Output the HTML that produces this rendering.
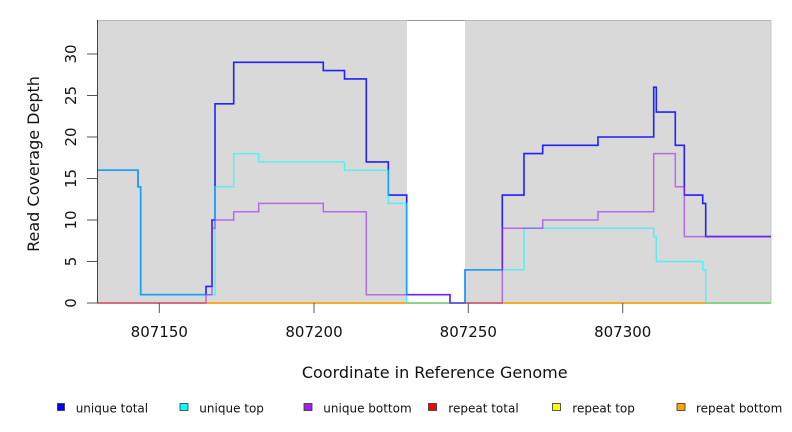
<!DOCTYPE html>
<html>
<head>
<meta charset="utf-8">
<style>
  html, body { margin:0; padding:0; background:#fff; }
  svg { display:block; }
  text { font-family: "DejaVu Sans", "Liberation Sans", sans-serif; fill:#111; }
</style>
</head>
<body>
<svg width="792" height="432" viewBox="0 0 792 432" xmlns="http://www.w3.org/2000/svg">
  <!-- plot background -->
  <rect x="97" y="20" width="310" height="283" fill="#d9d9d9"/>
  <rect x="465" y="20" width="306" height="283" fill="#d9d9d9"/>
  <line x1="97" y1="20.5" x2="771" y2="20.5" stroke="#b8b8b8" stroke-width="1"/>
  <line x1="407" y1="20.5" x2="465" y2="20.5" stroke="#999" stroke-width="1"/>
  <line x1="771" y1="20" x2="771" y2="303" stroke="#c4c4c4" stroke-width="1"/>

  <!-- repeat lines at zero -->
  <line x1="97" y1="303.5" x2="771" y2="303.5" stroke="#ffd0d0" stroke-width="1"/>
  <line x1="97" y1="303" x2="771" y2="303" stroke="#ff0000" stroke-width="1.5" stroke-opacity="0.6"/>
  <line x1="97" y1="303" x2="771" y2="303" stroke="#ffff00" stroke-width="1.5" stroke-opacity="0.6"/>
  <line x1="97" y1="303" x2="771" y2="303" stroke="#ffa500" stroke-width="1.5" stroke-opacity="0.8"/>

  <!-- unique total -->
  <path fill="none" stroke="#0000ff" stroke-width="1.6" stroke-opacity="0.85" stroke-linejoin="miter"
    d="M97,170.2 H138 V186.8 H140.7 V294.7 H206 V286.4 H212 V220 H215 V103.8 H233.7 V62.3 H323.3 V70.6 H344.5 V78.9 H366.3 V161.9 H388.3 V195.1 H406.7 V294.7 H450 V303 H465 V269.8 H502.3 V195.1 H524 V153.6 H542.7 V145.3 H598 V137 H653.7 V87.2 H656.3 V112.1 H675.3 V145.3 H684.3 V195.1 H702.7 V203.4 H705.7 V236.6 H771"/>
  <!-- unique top -->
  <path fill="none" stroke="#00ffff" stroke-width="1.5" stroke-opacity="0.6"
    d="M97,170.2 H138 V186.8 H140.7 V294.7 H215 V186.8 H233.7 V153.6 H258.7 V161.9 H344.5 V170.2 H388.3 V203.4 H406.7 V303 H465 V269.8 H524 V228.3 H653.7 V236.6 H656.3 V261.5 H702.7 V269.8 H705.7 V303 H771"/>
  <!-- unique bottom -->
  <path fill="none" stroke="#a020f0" stroke-width="1.5" stroke-opacity="0.6"
    d="M97,303 H206 V294.7 H212 V228.3 H215 V220 H233.7 V211.7 H258.7 V203.4 H323.3 V211.7 H366.3 V294.7 H450 V303 H502.3 V228.3 H542.7 V220 H598 V211.7 H653.7 V153.6 H675.3 V186.8 H684.3 V236.6 H771"/>

  <!-- y axis -->
  <line x1="97.5" y1="20" x2="97.5" y2="303" stroke="#444" stroke-width="1"/>
  <g stroke="#555" stroke-width="1">
    <line x1="87" y1="303" x2="97" y2="303"/>
    <line x1="87" y1="261.5" x2="97" y2="261.5"/>
    <line x1="87" y1="220" x2="97" y2="220"/>
    <line x1="87" y1="178.5" x2="97" y2="178.5"/>
    <line x1="87" y1="137" x2="97" y2="137"/>
    <line x1="87" y1="95.5" x2="97" y2="95.5"/>
    <line x1="87" y1="54" x2="97" y2="54"/>
  </g>
  <g font-size="15" text-anchor="middle">
    <text transform="translate(76,303) rotate(-90)">0</text>
    <text transform="translate(76,261.5) rotate(-90)">5</text>
    <text transform="translate(76,220) rotate(-90)">10</text>
    <text transform="translate(76,178.5) rotate(-90)">15</text>
    <text transform="translate(76,137) rotate(-90)">20</text>
    <text transform="translate(76,95.5) rotate(-90)">25</text>
    <text transform="translate(76,54) rotate(-90)">30</text>
  </g>
  <text transform="translate(39,164) rotate(-90)" font-size="16" text-anchor="middle">Read Coverage Depth</text>

  <!-- x axis ticks -->
  <g stroke="#555" stroke-width="1">
    <line x1="159.3" y1="303" x2="159.3" y2="313"/>
    <line x1="314" y1="303" x2="314" y2="313"/>
    <line x1="468.3" y1="303" x2="468.3" y2="313"/>
    <line x1="622.7" y1="303" x2="622.7" y2="313"/>
  </g>
  <g font-size="15" text-anchor="middle">
    <text x="159.3" y="337">807150</text>
    <text x="314" y="337">807200</text>
    <text x="468.3" y="337">807250</text>
    <text x="622.7" y="337">807300</text>
  </g>
  <text x="434.7" y="378" font-size="16" text-anchor="middle">Coordinate in Reference Genome</text>

  <!-- legend -->
  <g stroke="#333" stroke-width="0.8">
    <rect x="57.5" y="403.5" width="7" height="7" fill="#0000ff"/>
    <rect x="180" y="403.5" width="8" height="7" fill="#00ffff"/>
    <rect x="304" y="403.5" width="8" height="7" fill="#a020f0"/>
    <rect x="428.5" y="403.5" width="8" height="7" fill="#ff0000"/>
    <rect x="552.5" y="403.5" width="8" height="7" fill="#ffff00"/>
    <rect x="677" y="403.5" width="8" height="7" fill="#ffa500"/>
  </g>
  <g font-size="12">
    <text x="75.7" y="412.5">unique total</text>
    <text x="199.3" y="412.5">unique top</text>
    <text x="323.3" y="412.5">unique bottom</text>
    <text x="448.3" y="412.5">repeat total</text>
    <text x="572.3" y="412.5">repeat top</text>
    <text x="696" y="412.5">repeat bottom</text>
  </g>
</svg>
</body>
</html>
